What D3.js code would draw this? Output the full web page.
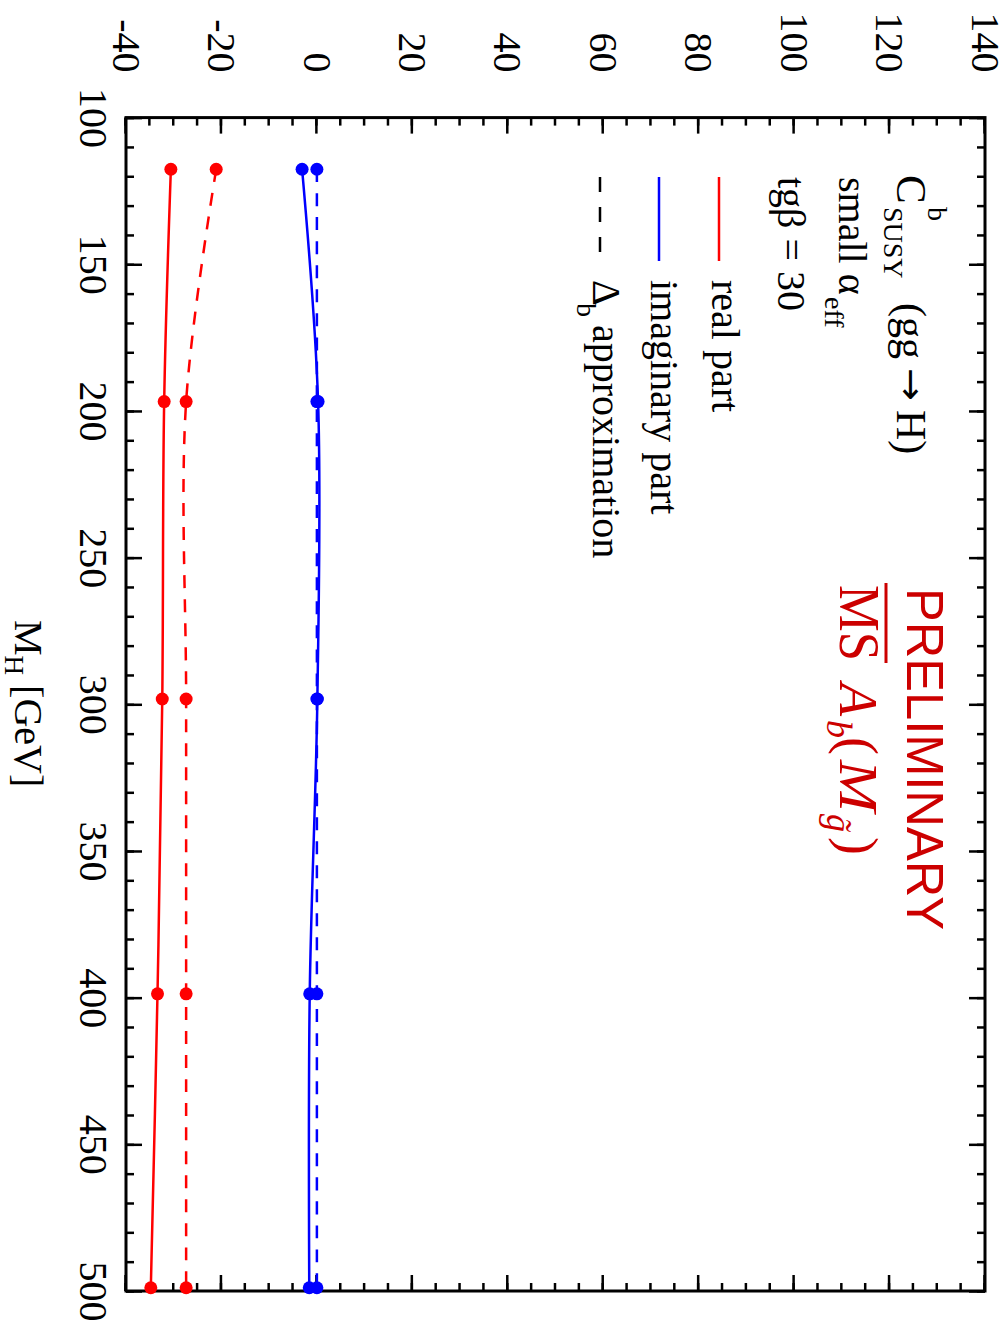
<!DOCTYPE html>
<html>
<head>
<meta charset="utf-8">
<script src="https://cdn.jsdelivr.net/npm/d3@7"></script>
<style>
  body { margin: 0; background: #fff; }
  svg { display: block; }
</style>
</head>
<body>
<script>
// data (M_H in GeV, C^b_SUSY parts)
var massH = [117.6, 196.8, 298.2, 398.7, 498.9];
var realFull = [-30.6, -32.0, -32.4, -33.4, -34.8];
var realApprox = [-21.1, -27.4, -27.4, -27.4, -27.4];
var imagFull = [-3.1, 0.25, 0.1, -1.5, -1.6];
var imagApprox = [0, 0, 0, 0, 0];

var xTicks = [100, 150, 200, 250, 300, 350, 400, 450, 500];
var yTicks = [-40, -20, 0, 20, 40, 60, 80, 100, 120, 140];

var seriesNames = ["real part", "imaginary part", "approximation"];

// the chart is drawn landscape and then turned 90deg clockwise onto the page
var pageW = 1008, pageH = 1326;

var x = d3.scaleLinear().domain([100, 500]).range([117.6, 1291]);
var y = d3.scaleLinear().domain([-40, 140]).range([882, 23]);

var serif = "Liberation Serif, Times New Roman, serif";
var sans = "Liberation Sans, Arial, sans-serif";
var darkRed = "#cc0000";

var svg = d3.select("body").append("svg")
    .attr("width", pageW)
    .attr("height", pageH);

var g = svg.append("g")
    .attr("transform", "translate(" + pageW + ",0) rotate(90)");

// ticks (inward, on all four sides)
function styleAxis(sel) {
    sel.select(".domain").remove();
    sel.attr("font-family", serif).attr("font-size", 40);
    sel.selectAll("line").attr("stroke", "#000").attr("stroke-width", 2.5);
    sel.selectAll("text").attr("fill", "#000");
}

var noLabel = function () { return ""; };
var plain = function (d) { return String(d); };

g.append("g").attr("transform", "translate(0," + y.range()[0] + ")")
    .call(d3.axisBottom(x).tickValues(d3.range(100, 501, 10)).tickSize(-8).tickFormat(noLabel))
    .call(styleAxis);
g.append("g").attr("transform", "translate(0," + y.range()[0] + ")")
    .call(d3.axisBottom(x).tickValues(xTicks).tickSize(-16).tickPadding(18).tickFormat(plain))
    .call(styleAxis);
g.append("g").attr("transform", "translate(0," + y.range()[1] + ")")
    .call(d3.axisTop(x).tickValues(d3.range(100, 501, 10)).tickSize(-8).tickFormat(noLabel))
    .call(styleAxis);
g.append("g").attr("transform", "translate(0," + y.range()[1] + ")")
    .call(d3.axisTop(x).tickValues(xTicks).tickSize(-16).tickFormat(noLabel))
    .call(styleAxis);

g.append("g").attr("transform", "translate(" + x.range()[0] + ",0)")
    .call(d3.axisLeft(y).tickValues(d3.range(-40, 141, 5)).tickSize(-8).tickFormat(noLabel))
    .call(styleAxis);
g.append("g").attr("transform", "translate(" + x.range()[0] + ",0)")
    .call(d3.axisLeft(y).tickValues(yTicks).tickSize(-16).tickPadding(45).tickFormat(plain))
    .call(styleAxis);
g.append("g").attr("transform", "translate(" + x.range()[1] + ",0)")
    .call(d3.axisRight(y).tickValues(d3.range(-40, 141, 5)).tickSize(-8).tickFormat(noLabel))
    .call(styleAxis);
g.append("g").attr("transform", "translate(" + x.range()[1] + ",0)")
    .call(d3.axisRight(y).tickValues(yTicks).tickSize(-16).tickFormat(noLabel))
    .call(styleAxis);

// frame
g.append("rect")
    .attr("x", x.range()[0]).attr("y", y.range()[1])
    .attr("width", x.range()[1] - x.range()[0])
    .attr("height", y.range()[0] - y.range()[1])
    .attr("fill", "none").attr("stroke", "#000").attr("stroke-width", 3);

// curves + dots
var line = d3.line()
    .x(function (d) { return x(d[0]); })
    .y(function (d) { return y(d[1]); })
    .curve(d3.curveCatmullRom);

var series = [
    { vals: realFull, color: "#ff0000", dash: null },
    { vals: realApprox, color: "#ff0000", dash: "13,11" },
    { vals: imagFull, color: "#0000ff", dash: null },
    { vals: imagApprox, color: "#0000ff", dash: "13,11" }
];

series.forEach(function (s) {
    var pts = massH.map(function (m, i) { return [m, s.vals[i]]; });
    g.append("path")
        .datum(pts)
        .attr("d", line)
        .attr("fill", "none")
        .attr("stroke", s.color)
        .attr("stroke-width", 2.5)
        .attr("stroke-dasharray", s.dash);
    g.selectAll(null)
        .data(pts)
        .enter().append("circle")
        .attr("cx", function (d) { return x(d[0]); })
        .attr("cy", function (d) { return y(d[1]); })
        .attr("r", 6.5)
        .attr("fill", s.color);
});

// axis title
var xt = g.append("text")
    .attr("x", 620).attr("y", 993)
    .attr("font-family", serif).attr("font-size", 40);
xt.append("tspan").text("M");
xt.append("tspan").attr("font-size", 27).attr("dy", 10).text("H");
xt.append("tspan").attr("dy", -10).text(" [GeV]");

// legend block
function txt(tx, ty, size, s, opts) {
    opts = opts || {};
    return g.append("text")
        .attr("x", tx).attr("y", ty)
        .attr("font-family", opts.font || serif)
        .attr("font-size", size)
        .attr("font-style", opts.italic ? "italic" : null)
        .attr("fill", opts.color || "#000")
        .text(s);
}

txt(175, 111, 43, "C");
txt(207, 80, 28, "b");
txt(207, 124, 28, "SUSY");
txt(303, 111, 42, "(gg");
txt(368, 109, 36, "\u2192", { font: "DejaVu Sans" })
    .attr("textLength", 33).attr("lengthAdjust", "spacingAndGlyphs");
txt(410, 111, 42, "H)");

txt(177, 169, 40, "small \u03b1");
txt(297, 183, 28, "eff");

txt(177, 230, 40, "tg\u03b2 = 30");

var legendY = [289, 349, 408];
var legendColors = ["#ff0000", "#0000ff", "#000"];
var legendDash = [null, null, "15,15"];
legendY.forEach(function (ly, i) {
    g.append("line")
        .attr("x1", 177).attr("x2", 261)
        .attr("y1", ly).attr("y2", ly)
        .attr("stroke", legendColors[i])
        .attr("stroke-width", 2.5)
        .attr("stroke-dasharray", legendDash[i]);
});
txt(280, 296, 40, seriesNames[0]);
txt(280, 357, 40, seriesNames[1]);
txt(280, 415, 40, "\u0394");
txt(303, 431, 28, "b");
txt(325, 415, 40, seriesNames[2]);

// PRELIMINARY / MSbar label
txt(588, 101, 52, "PRELIMINARY", { font: sans, color: darkRed })
    .attr("textLength", 342).attr("lengthAdjust", "spacingAndGlyphs");
txt(585, 168, 56, "MS", { color: darkRed })
    .attr("textLength", 76).attr("lengthAdjust", "spacingAndGlyphs");
g.append("line")
    .attr("x1", 583).attr("x2", 663).attr("y1", 122).attr("y2", 122)
    .attr("stroke", darkRed).attr("stroke-width", 3);
txt(683, 168, 54, "A", { italic: true, color: darkRed });
txt(720, 181, 36, "b", { italic: true, color: darkRed });
txt(737, 168, 54, "(", { color: darkRed });
txt(760, 168, 54, "M", { italic: true, color: darkRed })
    .attr("textLength", 52).attr("lengthAdjust", "spacingAndGlyphs");
txt(814, 181, 36, "g\u0303", { italic: true, color: darkRed });
txt(837, 168, 54, ")", { color: darkRed });
</script>
</body>
</html>
